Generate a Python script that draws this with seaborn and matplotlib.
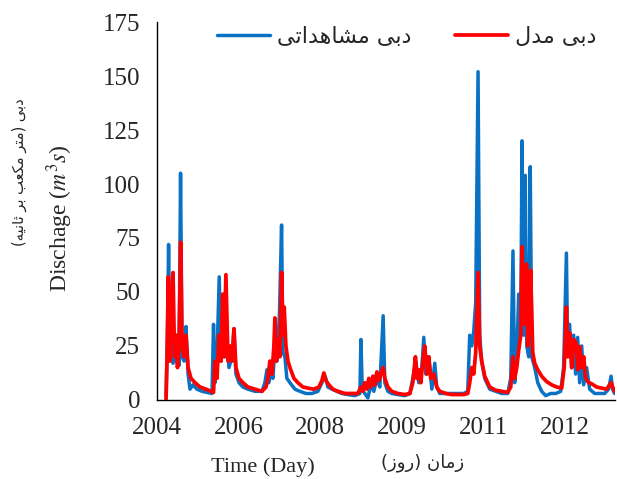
import numpy as np
import pandas as pd
import matplotlib
matplotlib.use("Agg")
import matplotlib.pyplot as plt
import seaborn as sns

# days from start of record
obs_day = [65, 75, 83, 93, 104, 115, 126, 136, 147, 158, 169, 180, 194, 208, 223, 237, 258, 287, 323, 359,
           395, 406, 416, 431, 447, 460, 474, 488, 503, 517, 539, 553, 567, 589, 617, 653, 704, 754, 775, 790,
           804, 819, 833, 847, 862, 880, 895, 905, 919, 933, 955, 991, 1027, 1070, 1113, 1156, 1185, 1199, 1213, 1228,
           1257, 1292, 1328, 1371, 1422, 1458, 1465, 1475, 1493, 1515, 1537, 1558, 1580, 1601, 1625, 1637, 1659, 1687, 1730, 1781,
           1817, 1838, 1860, 1881, 1903, 1917, 1931, 1953, 1975, 1996, 2010, 2032, 2075, 2118, 2161, 2204, 2233, 2247, 2262, 2276,
           2290, 2307, 2319, 2333, 2355, 2391, 2434, 2477, 2520, 2542, 2558, 2570, 2585, 2599, 2614, 2623, 2635, 2646, 2657, 2671,
           2682, 2693, 2714, 2736, 2764, 2793, 2829, 2865, 2901, 2922, 2942, 2951, 2965, 2980, 2994, 3008, 3023, 3037, 3052, 3066,
           3087, 3109, 3145, 3181, 3217, 3245, 3263, 3274, 3288]
obs_q = [2, 30, 72, 20, 45, 17, 25, 18, 30, 16, 105, 20, 18, 34, 12, 5, 7, 5, 4, 3.5,
         3, 35, 8, 20, 57, 18, 35, 20, 28, 15, 20, 33, 12, 8, 6, 5, 4, 4, 8, 14,
         8, 13, 10, 25, 18, 40, 81, 22, 20, 10, 8, 5, 4, 3, 3, 4, 8, 12, 10, 6,
         5, 4, 3, 2.5, 2, 3, 28, 5, 3, 1, 7, 4, 10, 6, 39, 8, 4, 3, 2.5, 2,
         3, 10, 18, 8, 15, 29, 12, 20, 5, 17, 6, 3, 3, 3, 3, 3, 4, 30, 25, 32,
         45, 152, 30, 18, 10, 5, 4, 3, 3, 10, 69, 8, 20, 49, 35, 120, 30, 104, 25, 20,
         108, 20, 15, 8, 4, 2, 3, 3, 4, 15, 68, 20, 35, 15, 30, 12, 29, 8, 25, 7,
         15, 5, 3, 3, 3, 5, 11, 5, 3]

mod_day = [65, 72, 81, 93, 104, 115, 126, 136, 147, 158, 170, 180, 194, 208, 223, 244, 273, 309, 352, 388,
           406, 416, 431, 445, 460, 472, 481, 495, 510, 524, 539, 553, 567, 589, 617, 653, 704, 754, 783, 797,
           811, 826, 840, 847, 858, 869, 883, 895, 905, 914, 926, 941, 955, 984, 1012, 1048, 1084, 1127, 1163, 1185,
           1199, 1213, 1235, 1264, 1300, 1350, 1400, 1443, 1465, 1479, 1493, 1508, 1522, 1537, 1551, 1565, 1580, 1594, 1608, 1625,
           1637, 1659, 1687, 1730, 1781, 1817, 1838, 1857, 1867, 1881, 1896, 1910, 1924, 1939, 1953, 1967, 1989, 2010, 2032, 2075,
           2118, 2161, 2204, 2233, 2247, 2262, 2276, 2290, 2307, 2319, 2333, 2355, 2391, 2434, 2477, 2520, 2542, 2558, 2570, 2585,
           2599, 2614, 2623, 2635, 2646, 2655, 2664, 2675, 2685, 2700, 2714, 2736, 2764, 2800, 2836, 2872, 2908, 2926, 2942, 2951,
           2965, 2980, 2994, 3013, 3023, 3037, 3052, 3066, 3080, 3102, 3123, 3159, 3195, 3231, 3263, 3274, 3288]
mod_q = [0.5, 20, 57, 18, 45, 59, 20, 30, 15, 25, 73, 25, 20, 30, 15, 10, 8, 6, 5, 4,
         3.5, 18, 10, 30, 18, 49, 20, 58, 18, 25, 18, 33, 15, 10, 8, 6, 5, 4, 6, 10,
         18, 12, 25, 38, 18, 28, 20, 59, 30, 43, 25, 18, 15, 10, 8, 6, 5.5, 5, 6, 9,
         12.5, 9, 7, 5, 4, 3, 3, 3, 6, 4, 8, 5, 10, 6, 11, 7, 13, 9, 12, 15,
         10, 6, 4, 3, 2.5, 3, 8, 20, 10, 14, 8, 18, 25, 12, 20, 10, 12, 6, 4, 3,
         2.5, 2.5, 2.5, 3, 8, 15, 12, 22, 59, 25, 18, 11, 6, 4.5, 4, 3.5, 6, 20, 10, 15,
         23, 30, 71, 35, 40, 63, 25, 35, 60, 22, 17, 14, 11, 8.5, 7, 6, 5.5, 15, 43, 20,
         31, 15, 28, 26, 14, 24.7, 15, 20, 10, 8, 7.5, 6, 5.5, 5, 8, 6, 4]

tick_days = [0, 586, 1172, 1758, 2344, 2930]
tick_labels = ["2004", "2006", "2008", "2009", "2011", "2012"]

# Persian text, written in shaped presentation forms in visual order
obs_label = "\uFEF0\uFE97\uFE8D\uFEAA\uFEEB\uFE8E\uFEB8\uFEE3 \uFEF0\uFE91\uFEA9"   # دبی مشاهداتی
mod_label = "\uFEDD\uFEAA\uFEE3 \uFEF0\uFE91\uFEA9"                                 # دبی مدل
ylab_fa = "(\uFEEA\uFEF4\uFEE7\uFE8E\uFE9B \uFEAE\uFE91 \uFE90\uFECC\uFB91\uFEE3 \uFEAE\uFE98\uFEE3) \uFEF0\uFE91\uFEA9"
xlab_fa = "(\uFEAF\uFEED\uFEAD) \uFEE5\uFE8E\uFEE3\uFEAF"                           # زمان (روز)

sns.set_style("white")
plt.rcParams["font.family"] = ["Liberation Serif", "DejaVu Sans"]
plt.rcParams["mathtext.fontset"] = "stix"

obs = pd.DataFrame({"day": obs_day, "q": obs_q})
mod = pd.DataFrame({"day": mod_day, "q": mod_q})

fig = plt.figure(figsize=(6.17, 4.79), dpi=100)
ax = fig.add_axes([0.2545, 0.165, 0.742, 0.789])

sns.lineplot(data=obs, x="day", y="q", ax=ax, color="#0A72C4", lw=2.5, label=obs_label)
sns.lineplot(data=mod, x="day", y="q", ax=ax, color="#FF0000", lw=2.7, label=mod_label)

ax.set_xlim(0, 3290)
ax.set_ylim(0, 175)
ax.set_yticks(np.arange(0, 176, 25))
ax.set_xticks(tick_days)
ax.set_xticklabels(tick_labels)
ax.tick_params(direction="in", length=5, width=1, labelsize=18, color="black")
ax.tick_params(axis="y", pad=12)
ax.tick_params(axis="x", pad=12)
for s in ["top", "right"]:
    ax.spines[s].set_visible(False)
for s in ["left", "bottom"]:
    ax.spines[s].set_color("black")
    ax.spines[s].set_linewidth(1)

ax.set_xlabel("")
ax.set_ylabel("")

leg = ax.legend(loc="center left", bbox_to_anchor=(0.131, 0.96), ncol=2, frameon=False,
                borderpad=0, borderaxespad=0,
                handlelength=2.4, columnspacing=1.95, handletextpad=0.3,
                prop={"family": "DejaVu Sans", "size": 16})

fig.text(0.097, 0.545, "Dischage ($m^3s$)", rotation=90, ha="center", va="center", fontsize=17)
fig.text(0.032, 0.64, ylab_fa, rotation=90, ha="center", va="center", fontsize=10.5, family="DejaVu Sans")
fig.text(0.426, 0.025, "Time (Day)", ha="center", va="center", fontsize=16)
fig.text(0.685, 0.035, xlab_fa, ha="center", va="center", fontsize=13, family="DejaVu Sans")

fig.savefig("out.png", dpi=100)
